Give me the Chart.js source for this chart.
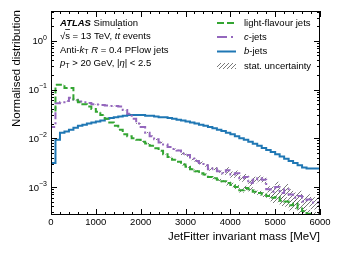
<!DOCTYPE html>
<html>
<head>
<meta charset="utf-8">
<script src="https://cdn.jsdelivr.net/npm/chart.js@4.4.1/dist/chart.umd.min.js"></script>
<style>
  html, body { margin: 0; padding: 0; background: #fff; }
</style>
</head>
<body>
<canvas id="chart" width="341" height="256"></canvas>
<script>
// JetFitter invariant mass, 100 MeV bins from 0 to 6000 MeV
const binWidth = 100;
const xMax = 6000;
const lightJets = [
  0.008, 0.035, 0.125, 0.125, 0.107, 0.107, 0.060, 0.055, 0.050, 0.045,
  0.040, 0.035, 0.030, 0.025, 0.021, 0.018, 0.015, 0.012, 0.011, 0.010,
  0.0093, 0.0085, 0.0078, 0.0070, 0.0062, 0.0055, 0.0047, 0.0041, 0.0036, 0.0033,
  0.0029, 0.0026, 0.0023, 0.0021, 0.0019, 0.0018, 0.0016, 0.0015, 0.0014, 0.0013,
  0.0012, 0.0011, 0.0010, 0.00085, 0.00095, 0.0009, 0.0008, 0.00075, 0.0007, 0.00065,
  0.0006, 0.00062, 0.00052, 0.0005, 0.00042, 0.00045, 0.00036, 0.00032, 0.00028, 0.00025,
];
const cJets = [
  0.0036, 0.017, 0.052, 0.055, 0.058, 0.068, 0.062, 0.057, 0.055, 0.053,
  0.050, 0.049, 0.048, 0.047, 0.046, 0.046, 0.045, 0.038, 0.032, 0.025,
  0.020, 0.017, 0.013, 0.011, 0.0095, 0.0082, 0.0074, 0.0066, 0.0060, 0.0056,
  0.0048, 0.0045, 0.0038, 0.0034, 0.0031, 0.0028, 0.0023, 0.0024, 0.0021, 0.0019,
  0.0022, 0.0018, 0.0019, 0.0015, 0.0016, 0.0012, 0.0014, 0.0015, 0.0014, 0.0009,
  0.0008, 0.0010, 0.00075, 0.0009, 0.0007, 0.0006, 0.00065, 0.0005, 0.00055, 0.00048,
];
// first bin is empty (below the axis)
const bJets = [
  0.000001, 0.0031, 0.0093, 0.0129, 0.0137, 0.0150, 0.0165, 0.0180, 0.0190, 0.0200,
  0.021, 0.022, 0.023, 0.025, 0.026, 0.027, 0.028, 0.029, 0.030, 0.030,
  0.030, 0.030, 0.029, 0.029, 0.028, 0.027, 0.027, 0.026, 0.025, 0.024,
  0.023, 0.022, 0.021, 0.020, 0.019, 0.018, 0.017, 0.016, 0.015, 0.014,
  0.013, 0.012, 0.011, 0.010, 0.0093, 0.0085, 0.0077, 0.0070, 0.0063, 0.0057,
  0.0052, 0.0047, 0.0042, 0.0038, 0.0034, 0.0031, 0.0028, 0.0025, 0.0024, 0.0024,
];
// relative stat. uncertainty, one value per 1000 MeV slice
const lightErr = [0.005, 0.01, 0.02, 0.05, 0.11, 0.22];
const cErr = [0.005, 0.01, 0.03, 0.07, 0.15, 0.28];
const xTickLabels = [0, 1000, 2000, 3000, 4000, 5000, 6000];
const yDecades = [-3, -2, -1, 0];
const yMin = 2.65e-4, yMax = 4.1;

const GREEN = "#33a532", PURPLE = "#9467bd", BLUE = "#1f77b4";
const FONT = '"Liberation Sans", Arial, sans-serif';

// step points: one per bin edge, last bin repeated at the right edge
function steps(vals) {
  const pts = vals.map((v, i) => ({ x: i * binWidth, y: v }));
  pts.push({ x: vals.length * binWidth, y: vals[vals.length - 1] });
  return pts;
}
function band(vals, err, sign) {
  return steps(vals.map((v, i) => v * (1 + sign * err[Math.floor(i * binWidth / 1000)])));
}

function hatch() {
  const c = document.createElement("canvas");
  c.width = 4; c.height = 4;
  const g = c.getContext("2d");
  g.strokeStyle = "#555"; g.lineWidth = 0.8;
  g.beginPath();
  g.moveTo(0, 4); g.lineTo(4, 0);
  g.moveTo(-1, 1); g.lineTo(1, -1);
  g.moveTo(3, 5); g.lineTo(5, 3);
  g.stroke();
  return document.getElementById("chart").getContext("2d").createPattern(c, "repeat");
}
const hatchPattern = hatch();

function drawRuns(ctx, x, y, runs) {
  runs.forEach((r) => {
    ctx.font = r.font;
    ctx.fillText(r.t, x, y + (r.dy || 0));
    const w = ctx.measureText(r.t).width;
    if (r.over) {
      ctx.beginPath();
      ctx.lineWidth = 0.8;
      ctx.moveTo(x + (r.ox || 0), y - r.over + 0.5);
      ctx.lineTo(x + w, y - r.over + 0.5);
      ctx.stroke();
    }
    x += w;
  });
  return x;
}

const fs = 9.5;
const nf = `${fs}px ${FONT}`, itf = `italic ${fs}px ${FONT}`, sub = `7px ${FONT}`;

const decorations = {
  id: "decorations",
  afterDatasetsDraw(chart) {
    const { ctx, chartArea: a, scales: { x, y } } = chart;
    ctx.save();
    ctx.strokeStyle = "#000"; ctx.fillStyle = "#000"; ctx.lineWidth = 1;
    ctx.strokeRect(a.left + 0.5, a.top + 0.5, a.right - a.left - 1, a.bottom - a.top - 1);

    // inward ticks on all four sides
    ctx.beginPath();
    for (let v = 0; v <= xMax; v += 200) {
      const px = Math.round(x.getPixelForValue(v)) + 0.5;
      const len = v % 1000 === 0 ? 6 : 3;
      ctx.moveTo(px, a.bottom); ctx.lineTo(px, a.bottom - len);
      ctx.moveTo(px, a.top); ctx.lineTo(px, a.top + len);
    }
    for (let d = -4; d <= 0; d++) {
      for (let m = 1; m <= 9; m++) {
        const v = m * Math.pow(10, d);
        if (v < yMin || v > yMax) continue;
        const py = Math.round(y.getPixelForValue(v)) + 0.5;
        const len = m === 1 ? 6 : 3;
        ctx.moveTo(a.left, py); ctx.lineTo(a.left + len, py);
        ctx.moveTo(a.right, py); ctx.lineTo(a.right - len, py);
      }
    }
    ctx.stroke();

    // x tick labels
    ctx.font = nf;
    ctx.textAlign = "center";
    ctx.textBaseline = "middle";
    xTickLabels.forEach((v) => ctx.fillText(String(v), x.getPixelForValue(v), a.bottom + 7.5));

    // y tick labels with superscript exponent
    ctx.textAlign = "left";
    yDecades.forEach((d) => {
      const py = y.getPixelForValue(Math.pow(10, d));
      const exp = d === 0 ? "0" : "\u2212" + Math.abs(d);
      ctx.font = sub;
      const ew = ctx.measureText(exp).width;
      ctx.font = nf;
      const bw = ctx.measureText("10").width;
      const right = a.left - 4;
      ctx.fillText("10", right - ew - bw, py + 1);
      ctx.font = sub;
      ctx.fillText(exp, right - ew, py - 3);
    });

    // axis titles
    ctx.font = `11.5px ${FONT}`;
    ctx.textAlign = "right";
    ctx.fillText("JetFitter invariant mass [MeV]", a.right, 237);
    ctx.save();
    ctx.translate(17, 10);
    ctx.rotate(-Math.PI / 2);
    ctx.fillText("Normalised distribution", 0, 0);
    ctx.restore();

    // ATLAS label
    ctx.textAlign = "left";
    const tx = 60;
    drawRuns(ctx, tx, 23, [{ t: "ATLAS", font: `bold italic ${fs}px ${FONT}` }, { t: " Simulation", font: nf }]);
    drawRuns(ctx, tx, 36.5, [
      { t: "\u221A", font: nf },
      { t: "s", font: nf, over: 7.5 },
      { t: " = 13 TeV, ", font: nf },
      { t: "t", font: itf },
      { t: "t", font: itf, over: 8.5, ox: 0.5 },
      { t: " events", font: nf },
    ]);
    drawRuns(ctx, tx, 50, [
      { t: "Anti-", font: nf }, { t: "k", font: itf }, { t: "T", font: sub, dy: 2.5 },
      { t: " ", font: nf }, { t: "R", font: itf }, { t: " = 0.4 PFlow jets", font: nf },
    ]);
    drawRuns(ctx, tx, 63.5, [
      { t: "p", font: itf }, { t: "T", font: sub, dy: 2.5 }, { t: " > 20 GeV, |", font: nf },
      { t: "\u03B7", font: itf }, { t: "| < 2.5", font: nf },
    ]);

    // legend
    const lx0 = 217, lx1 = 236, ltx = 244;
    const rows = [23, 37, 51.5, 66];
    ctx.lineWidth = 2;
    ctx.strokeStyle = GREEN; ctx.setLineDash([7, 3]);
    ctx.beginPath(); ctx.moveTo(lx0, rows[0]); ctx.lineTo(lx1, rows[0]); ctx.stroke();
    ctx.strokeStyle = PURPLE; ctx.setLineDash([10, 4, 2, 4]);
    ctx.beginPath(); ctx.moveTo(lx0, rows[1]); ctx.lineTo(lx1, rows[1]); ctx.stroke();
    ctx.strokeStyle = BLUE; ctx.setLineDash([]);
    ctx.beginPath(); ctx.moveTo(lx0, rows[2]); ctx.lineTo(lx1, rows[2]); ctx.stroke();
    ctx.fillStyle = hatchPattern;
    ctx.fillRect(lx0, rows[3] - 3, lx1 - lx0, 6);
    ctx.fillStyle = "#000";
    drawRuns(ctx, ltx, rows[0], [{ t: "light-flavour jets", font: nf }]);
    drawRuns(ctx, ltx, rows[1], [{ t: "c", font: itf }, { t: "-jets", font: nf }]);
    drawRuns(ctx, ltx, rows[2], [{ t: "b", font: itf }, { t: "-jets", font: nf }]);
    drawRuns(ctx, ltx, rows[3], [{ t: "stat. uncertainty", font: nf }]);
    ctx.restore();
  },
};

const lineDs = (data, color, dash) => ({
  data: steps(data), borderColor: color, borderWidth: 2, borderDash: dash,
  stepped: "after", pointRadius: 0, fill: false, order: 0,
});
const bandDs = (vals, err, sign, fill) => ({
  data: band(vals, err, sign), borderWidth: 0, borderColor: "rgba(0,0,0,0)",
  backgroundColor: hatchPattern, stepped: "after", pointRadius: 0, fill, order: 1,
});

new Chart(document.getElementById("chart"), {
  type: "line",
  data: {
    datasets: [
      lineDs(lightJets, GREEN, [6, 3]),
      lineDs(cJets, PURPLE, [7, 3, 2, 3]),
      lineDs(bJets, BLUE, []),
      bandDs(lightJets, lightErr, 1, "+1"),
      bandDs(lightJets, lightErr, -1, false),
      bandDs(cJets, cErr, 1, "+1"),
      bandDs(cJets, cErr, -1, false),
    ],
  },
  options: {
    responsive: false,
    animation: false,
    layout: { padding: { left: 0, right: 21, top: 11, bottom: 0 } },
    plugins: { legend: { display: false }, tooltip: { enabled: false } },
    scales: {
      x: {
        type: "linear", min: 0, max: xMax,
        afterFit: (s) => { s.height = 41; },
        grid: { display: false }, border: { display: false },
        ticks: { display: false },
      },
      y: {
        type: "logarithmic", min: yMin, max: yMax,
        afterFit: (s) => { s.width = 51; },
        grid: { display: false }, border: { display: false },
        ticks: { display: false },
      },
    },
  },
  plugins: [decorations],
});
</script>
</body>
</html>
